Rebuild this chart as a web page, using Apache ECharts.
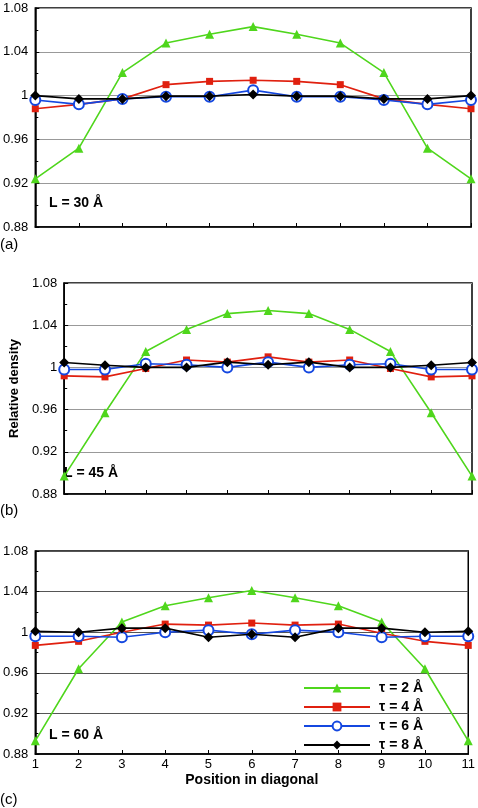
<!DOCTYPE html>
<html><head><meta charset="utf-8">
<script src="https://cdn.jsdelivr.net/npm/echarts@6/dist/echarts.min.js"></script>
<style>html,body{margin:0;padding:0;background:#fff}#c{width:478px;height:808px}</style>
</head><body><div id="c"></div>
<script>
const positions = [1,2,3,4,5,6,7,8,9,10,11];
const seriesNames = ['τ = 2 Å','τ = 4 Å','τ = 6 Å','τ = 8 Å'];
const panelLabels = ['L = 30 Å','L = 45 Å','L = 60 Å'];
const panelTags = ['(a)','(b)','(c)'];
const yTicks = [0.88,0.92,0.96,1,1.04,1.08];

// L = 30 Å
const a_tau2 = [0.924,0.952,1.021,1.048,1.056,1.063,1.056,1.048,1.021,0.952,0.924];
const a_tau4 = [0.988,0.992,0.997,1.010,1.013,1.014,1.013,1.010,0.997,0.992,0.988];
const a_tau6 = [0.996,0.992,0.997,0.999,0.999,1.005,0.999,0.999,0.996,0.992,0.996];
const a_tau8 = [1.000,0.997,0.997,0.9995,0.9995,1.001,0.9995,0.9995,0.997,0.997,1.000];
// L = 45 Å
const b_tau2 = [0.897,0.957,1.015,1.036,1.051,1.054,1.051,1.036,1.015,0.957,0.897];
const b_tau4 = [0.992,0.991,0.999,1.007,1.005,1.010,1.005,1.007,0.999,0.991,0.992];
const b_tau6 = [0.998,0.998,1.0035,1.0025,1.000,1.005,1.000,1.0025,1.0035,0.998,0.998];
const b_tau8 = [1.0047,1.002,1.000,1.000,1.005,1.0025,1.005,1.000,1.000,1.002,1.0047];
// L = 60 Å
const c_tau2 = [0.893,0.964,1.010,1.026,1.034,1.041,1.034,1.026,1.010,0.964,0.893];
const c_tau4 = [0.987,0.991,1.000,1.008,1.007,1.009,1.007,1.008,0.999,0.991,0.987];
const c_tau6 = [0.996,0.996,0.995,1.000,1.002,0.998,1.002,1.000,0.995,0.996,0.996];
const c_tau8 = [1.001,1.000,1.004,1.004,0.995,0.998,0.995,1.004,1.004,1.000,1.001];

const panels = [[a_tau2,a_tau4,a_tau6,a_tau8],[b_tau2,b_tau4,b_tau6,b_tau8],[c_tau2,c_tau4,c_tau6,c_tau8]];

const FONT = '"Liberation Sans", Arial, Helvetica, sans-serif';
const colors = ['#4fd61c','#e0200f','#1447e0','#000000'];
const symbols = ['triangle','rect','emptyCircle','diamond'];
const symSizes = [9,7,10,10];

const grids = [
  {left:33, top:8, width:438, height:219},
  {left:49, top:283, width:423, height:211},
  {left:34, top:551, width:435, height:203}
];
const gridLineColors = ['#999','#999','#555'];

const option = {
  animation:false,
  textStyle:{fontFamily:FONT},
  grid: grids.map(g => Object.assign({show:true, borderColor:'#000', borderWidth:1.5, backgroundColor:'transparent'}, g)),
  xAxis: grids.map((g,i) => ({
    type:'value', gridIndex:i, min:1, max:11, interval:1,
    axisLine:{show:true, lineStyle:{color:'#000', width:1.5}},
    axisTick:{show:true, inside:true, length:4, lineStyle:{color:'#000', width:1}},
    axisLabel:{show: i===2, color:'#000', fontSize:13, margin:4, fontFamily:FONT},
    splitLine:{show:false},
    name: i===2 ? 'Position in diagonal' : '',
    nameLocation:'middle', nameGap:19,
    nameTextStyle:{color:'#000', fontSize:14, fontWeight:'bold', fontFamily:FONT}
  })),
  yAxis: grids.map((g,i) => ({
    type:'value', gridIndex:i, min:yTicks[0], max:yTicks[yTicks.length-1], interval:0.04,
    axisLine:{show:true, lineStyle:{color:'#000', width:1.5}},
    axisTick:{show:true, inside:true, length:4, lineStyle:{color:'#000'}},
    minorTick:{show:true, splitNumber:2, length:3, lineStyle:{color:'#000'}},
    axisLabel:{color:'#000', fontSize:13, margin:7, fontFamily:FONT,
      formatter: v => String(parseFloat(v.toFixed(2)))},
    splitLine:{show:true, lineStyle:{color:gridLineColors[i], width:1}},
    name: i===1 ? 'Relative density' : '',
    nameLocation:'middle', nameGap:36, nameRotate:90,
    nameTextStyle:{color:'#000', fontSize:13, fontWeight:'bold', fontFamily:FONT}
  })),
  legend:{
    data: seriesNames,
    orient:'vertical', left:303, top:680, itemWidth:66, itemHeight:11, itemGap:3,
    padding:0,
    textStyle:{color:'#000', fontSize:14, fontWeight:'bold', fontFamily:FONT, padding:[0,0,0,4], lineHeight:16},
    selectedMode:false
  },
  series: [],
  graphic: []
};

panels.forEach((p,i) => {
  p.forEach((vals,k) => {
    option.series.push({
      name: seriesNames[k], type:'line', xAxisIndex:i, yAxisIndex:i,
      data: positions.map((x,j) => [x, vals[j]]),
      symbol: symbols[k], symbolSize: symSizes[k], showSymbol:true,
      lineStyle:{color:colors[k], width:1.6},
      itemStyle:{color:colors[k], borderColor:colors[k], borderWidth: k===2 ? 2 : 0},
      z: 2+k
    });
  });
});

const labelPos = [[49,205],[64,475],[49,737]];
const tagPos = [246,512,801];
panelLabels.forEach((t,i) => {
  option.graphic.push({type:'text', left:labelPos[i][0], top:labelPos[i][1]-9,
    style:{text:t, fill:'#000', font:'bold 14px ' + FONT}});
  option.graphic.push({type:'text', left:0, top:tagPos[i]-9,
    style:{text:panelTags[i], fill:'#000', font:'15px ' + FONT}});
});

const chart = echarts.init(document.getElementById('c'), null, {renderer:'canvas'});
chart.setOption(option);
</script></body></html>
